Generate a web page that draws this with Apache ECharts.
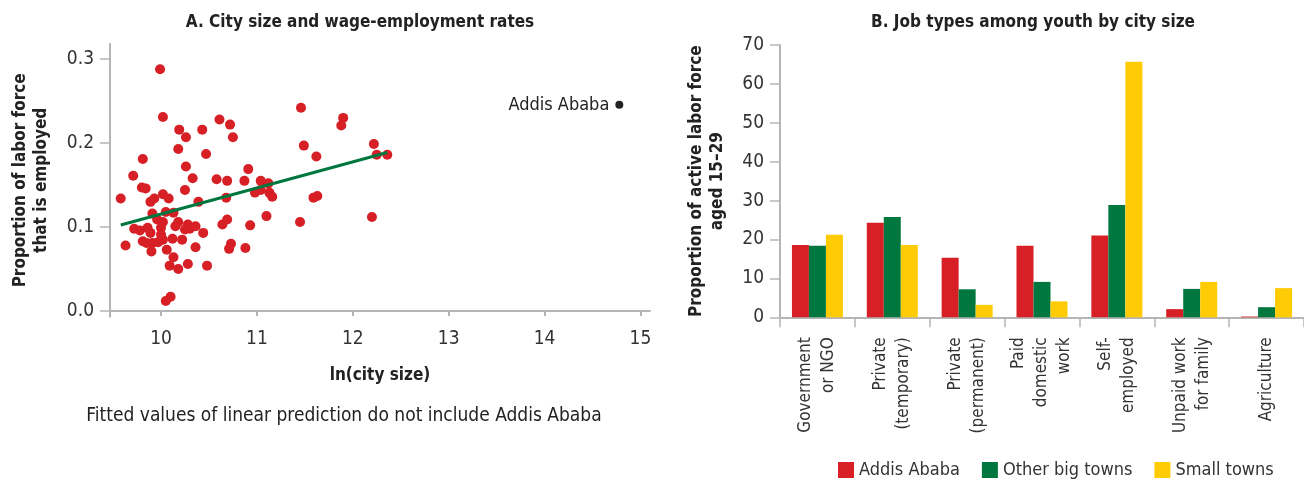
<!DOCTYPE html>
<html>
<head>
<meta charset="utf-8">
<script src="https://cdn.jsdelivr.net/npm/echarts@6/dist/echarts.min.js"></script>
<style>
html,body{margin:0;padding:0;background:#fff;}
#c{width:1304px;height:479px;}
</style>
</head>
<body>
<div id="c"></div>
<script>
// ---- Panel A data: ln(city size) and proportion employed ----
const lnCitySize = [
  9.99, 10.02, 10.19, 10.26, 10.43, 10.61, 10.72, 10.75, 10.18, 10.47,
  9.81, 10.26, 9.71, 10.33, 10.58, 10.69, 10.87, 10.91, 11.04, 11.12,
  11.46, 11.49, 11.62, 11.90, 11.88, 12.22, 12.25, 12.36, 9.80, 9.84,
  10.25, 10.02, 10.08, 9.58, 9.93, 9.89, 10.39, 10.68, 10.98, 11.04,
  11.13, 11.16, 11.59, 11.63, 9.91, 10.05, 10.13, 9.96, 10.02, 9.72,
  9.78, 9.86, 9.89, 10.00, 10.00, 10.02, 10.15, 10.18, 10.28, 10.25,
  10.30, 10.36, 10.44, 10.64, 10.69, 10.93, 11.10, 11.45, 12.20, 9.81,
  9.85, 9.91, 9.97, 10.12, 10.22, 9.63, 9.90, 10.06, 10.36, 10.73,
  10.71, 10.88, 10.13, 10.09, 10.18, 10.28, 10.48, 10.10, 10.05
];
const propEmployed = [
  0.288, 0.231, 0.216, 0.207, 0.216, 0.228, 0.222, 0.207, 0.193, 0.187,
  0.181, 0.172, 0.161, 0.158, 0.157, 0.155, 0.155, 0.169, 0.155, 0.152,
  0.242, 0.197, 0.184, 0.230, 0.221, 0.199, 0.186, 0.186, 0.147, 0.146,
  0.144, 0.139, 0.134, 0.134, 0.134, 0.130, 0.130, 0.135, 0.141, 0.144,
  0.141, 0.136, 0.135, 0.137, 0.116, 0.118, 0.117, 0.109, 0.106, 0.098,
  0.096, 0.099, 0.093, 0.099, 0.091, 0.085, 0.101, 0.106, 0.103, 0.097,
  0.098, 0.101, 0.093, 0.103, 0.109, 0.102, 0.113, 0.106, 0.112, 0.083,
  0.081, 0.081, 0.082, 0.086, 0.085, 0.078, 0.071, 0.073, 0.076, 0.080,
  0.074, 0.075, 0.064, 0.054, 0.050, 0.056, 0.054, 0.017, 0.012
];
const fitX = [9.58, 12.36];
const fitY = [0.1025, 0.1887];
const addisName = 'Addis Ababa';
const addisX = 14.78;
const addisY = 0.2455;
const panelAXTicks = [10, 11, 12, 13, 14, 15];
const panelAYTicks = [0, 0.1, 0.2, 0.3];

// ---- Panel B data ----
const jobTypes = ['Government\nor NGO', 'Private\n(temporary)', 'Private\n(permanent)', 'Paid\ndomestic\nwork', 'Self-\nemployed', 'Unpaid work\nfor family', 'Agriculture'];
const seriesNames = ['Addis Ababa', 'Other big towns', 'Small towns'];
const addisAbaba = [18.6, 24.3, 15.3, 18.4, 21.0, 2.1, 0.2];
const otherBigTowns = [18.4, 25.8, 7.2, 9.1, 28.9, 7.3, 2.6];
const smallTowns = [21.2, 18.6, 3.2, 4.1, 65.7, 9.1, 7.5];

const FONT = "'Liberation Sans Narrow', 'DejaVu Sans Condensed', 'Roboto', sans-serif";
const TXT = '#333333';
const AX = '#b5b5b5';
const RED = '#d71f26';
const GREEN = '#00773e';
const YELLOW = '#ffcb05';

const scatterData = lnCitySize.map((x, i) => [x, propEmployed[i]]);
const fitData = fitX.map((x, i) => [x, fitY[i]]);

const chart = echarts.init(document.getElementById('c'), null, {renderer: 'canvas'});
chart.setOption({
  animation: false,
  textStyle: {fontFamily: FONT},
  title: [
    {text: 'A. City size and wage-employment rates', left: 355, top: 9, textAlign: 'center',
     textStyle: {fontFamily: FONT, fontSize: 17, fontWeight: 'bold', color: '#222'}},
    {text: 'B. Job types among youth by city size', left: 1028, top: 9, textAlign: 'center',
     textStyle: {fontFamily: FONT, fontSize: 17, fontWeight: 'bold', color: '#222'}},
    {text: 'Fitted values of linear prediction do not include Addis Ababa', left: 339, top: 402, textAlign: 'center',
     textStyle: {fontFamily: FONT, fontSize: 19, fontWeight: 'normal', color: '#222'}}
  ],
  legend: {
    data: seriesNames,
    left: 833, top: 456,
    icon: 'rect', itemWidth: 16, itemHeight: 16, itemGap: 22,
    textStyle: {fontFamily: FONT, fontSize: 18, color: TXT}
  },
  grid: [
    {left: 110, top: 44, width: 540, height: 272.7},
    {left: 780, top: 45, width: 530, height: 272.3}
  ],
  xAxis: [
    {type: 'value', gridIndex: 0, min: 9.468, max: 15.1,
     name: 'ln(city size)', nameLocation: 'middle', nameGap: 50,
     nameTextStyle: {fontFamily: FONT, fontSize: 17, fontWeight: 'bold', color: '#222'},
     axisLine: {show: true, lineStyle: {color: AX, width: 2}},
     axisTick: {show: true, length: 5, lineStyle: {color: AX, width: 2}, customValues: panelAXTicks},
     axisLabel: {fontFamily: FONT, fontSize: 19, color: TXT, margin: 13, customValues: panelAXTicks},
     splitLine: {show: false}},
    {type: 'category', gridIndex: 1, data: jobTypes, boundaryGap: true,
     axisLine: {show: true, lineStyle: {color: AX, width: 2}},
     axisTick: {show: true, length: 10, alignWithLabel: false, lineStyle: {color: AX, width: 1.5}},
     axisLabel: {rotate: 90, fontFamily: FONT, fontSize: 17, lineHeight: 23, color: TXT, margin: 20, interval: 0}}
  ],
  yAxis: [
    {type: 'value', gridIndex: 0, min: -0.0068, max: 0.318,
     name: 'Proportion of labor force\nthat is employed', nameLocation: 'middle', nameGap: 58, nameRotate: 90,
     nameTextStyle: {fontFamily: FONT, fontSize: 17, fontWeight: 'bold', color: '#222', lineHeight: 21},
     axisLine: {show: true, lineStyle: {color: AX, width: 2}},
     axisTick: {show: true, length: 10, lineStyle: {color: AX, width: 1.5}, customValues: panelAYTicks},
     axisLabel: {fontFamily: FONT, fontSize: 19, color: TXT, margin: 16, customValues: panelAYTicks,
                 formatter: v => v.toFixed(1)},
     splitLine: {show: false}},
    {type: 'value', gridIndex: 1, min: 0, max: 70, interval: 10,
     name: 'Proportion of active labor force\naged 15–29', nameLocation: 'middle', nameGap: 52, nameRotate: 90,
     nameTextStyle: {fontFamily: FONT, fontSize: 17, fontWeight: 'bold', color: '#222', lineHeight: 21},
     axisLine: {show: true, lineStyle: {color: AX, width: 2}},
     axisTick: {show: true, length: 10, lineStyle: {color: AX, width: 1.5}},
     axisLabel: {fontFamily: FONT, fontSize: 19, color: TXT, margin: 16},
     splitLine: {show: false}}
  ],
  series: [
    {type: 'scatter', xAxisIndex: 0, yAxisIndex: 0, data: scatterData, symbolSize: 10,
     itemStyle: {color: RED, opacity: 1}, z: 3},
    {type: 'line', xAxisIndex: 0, yAxisIndex: 0, data: fitData, symbol: 'none',
     lineStyle: {color: GREEN, width: 3}, z: 4},
    {type: 'scatter', xAxisIndex: 0, yAxisIndex: 0, data: [[addisX, addisY]], symbolSize: 8,
     itemStyle: {color: '#222', opacity: 1},
     label: {show: true, position: 'left', distance: 6, formatter: addisName,
             fontFamily: FONT, fontSize: 18, color: '#222', opacity: 1}},
    {name: seriesNames[0], type: 'bar', xAxisIndex: 1, yAxisIndex: 1, data: addisAbaba,
     barWidth: 17, barGap: '0%', itemStyle: {color: RED}},
    {name: seriesNames[1], type: 'bar', xAxisIndex: 1, yAxisIndex: 1, data: otherBigTowns,
     barWidth: 17, barGap: '0%', itemStyle: {color: GREEN}},
    {name: seriesNames[2], type: 'bar', xAxisIndex: 1, yAxisIndex: 1, data: smallTowns,
     barWidth: 17, barGap: '0%', itemStyle: {color: YELLOW}}
  ]
});
</script>
</body>
</html>
